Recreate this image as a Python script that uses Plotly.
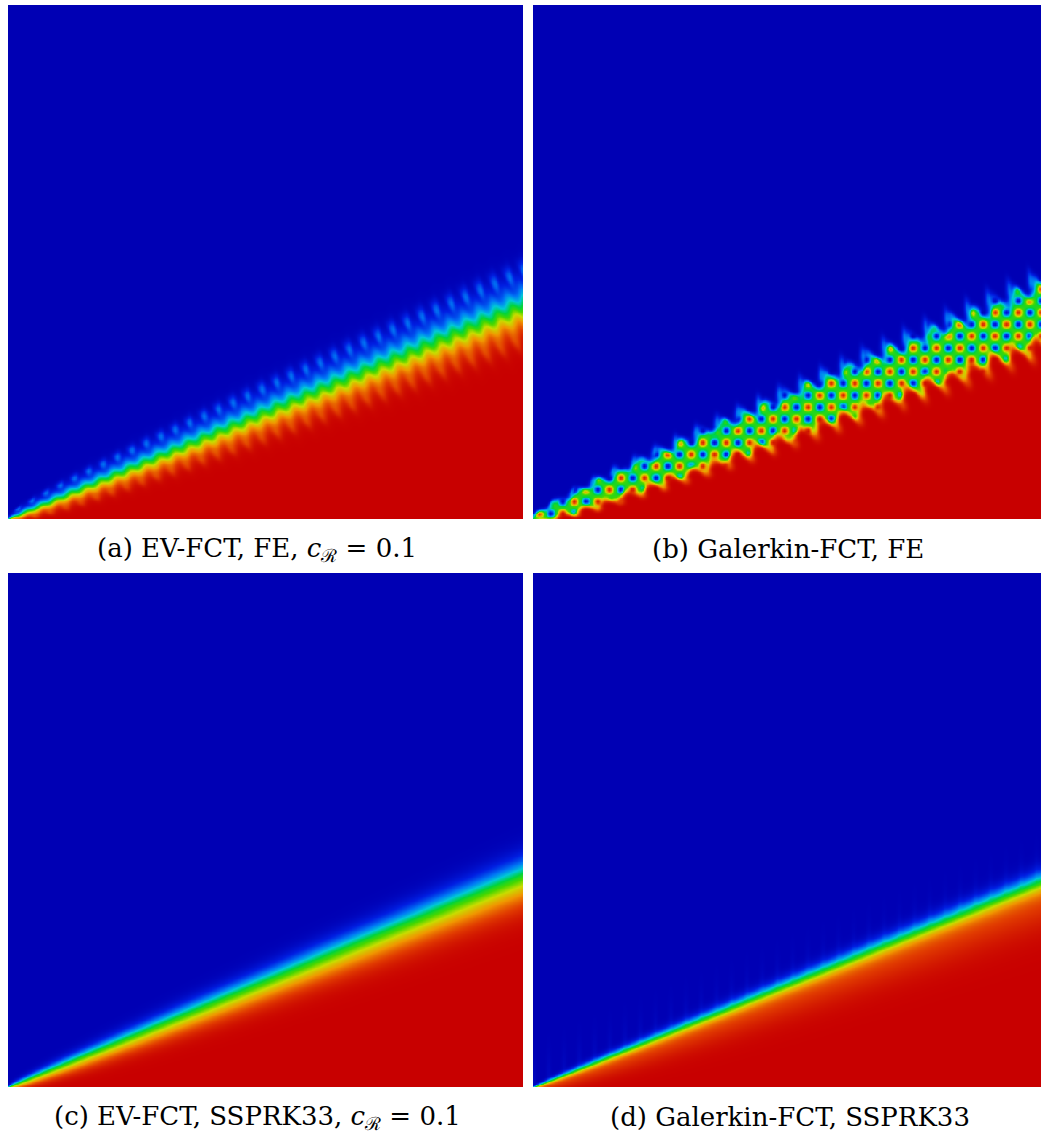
import math
import numpy as np
import plotly.graph_objects as go

# Sub-figure captions
captions = [
    "(a) EV-FCT, FE, <i>c</i><sub>ℛ</sub> = 0.1",
    "(b) Galerkin-FCT, FE",
    "(c) EV-FCT, SSPRK33, <i>c</i><sub>ℛ</sub> = 0.1",
    "(d) Galerkin-FCT, SSPRK33",
]

# Slope of the transported discontinuity (y = slope * x) in each run
front_slope = [0.415, 0.400, 0.412, 0.403]
# Diffusive width of the front, coefficient of sqrt(distance travelled)
front_width = [0.048, 0.046, 0.040, 0.023]
# Amplitude of mesh-scale wiggles relative to the front width
wiggle_amp = [0.10, 0.25, 0.0, 0.0]
# Wavelength of the wiggles along the front
wiggle_len = [0.031, 0.045, 0.0, 0.0]

N = 321
erfc = np.vectorize(math.erfc)

# Rainbow map: 0 (inflow value, blue) .. 1 (red)
colorscale = [
    [0.00, "rgb(0,0,180)"],
    [0.10, "rgb(0,30,225)"],
    [0.22, "rgb(0,120,245)"],
    [0.33, "rgb(0,200,215)"],
    [0.45, "rgb(0,212,60)"],
    [0.55, "rgb(70,215,0)"],
    [0.66, "rgb(200,220,0)"],
    [0.78, "rgb(240,150,0)"],
    [0.90, "rgb(225,60,0)"],
    [1.00, "rgb(200,0,0)"],
]


def step(d, w):
    return 0.5 * erfc(d / w)


def coords(slope):
    x = np.linspace(0.0, 1.0, N)
    y = np.linspace(0.0, 1.0, N)
    X, Y = np.meshgrid(x, y)
    th = math.atan(slope)
    s = X * math.cos(th) + Y * math.sin(th)
    d = -X * math.sin(th) + Y * math.cos(th)
    return x, y, X, Y, np.clip(s, 1e-4, None), d


def soft(t, p):
    return np.sign(t) * np.abs(t) ** p


def field_a(k):
    x, y, X, Y, s, d = coords(front_slope[k])
    w = 0.002 + front_width[k] * np.sqrt(s)
    ph = 2 * np.pi * s / wiggle_len[k]
    delta = wiggle_amp[k] * w * np.sin(ph)
    u = step(d - delta, w)
    halo = 0.18 * np.exp(-((d - delta - 1.3 * w) / (0.35 * w)) ** 2) * ((1 + np.cos(ph + 1.2)) / 2) ** 1.5
    u = u + halo * (1 - u)
    low = 0.06 * np.exp(-((d - delta + 1.1 * w) / (0.35 * w)) ** 2) * ((1 + np.cos(ph + 2.6)) / 2) ** 1.5
    u = u - low * u
    return x, y, np.clip(u, 0, 1)


def field_b(k):
    x, y, X, Y, s, d = coords(front_slope[k])
    b = 0.003 + front_width[k] * np.sqrt(s)
    we = 0.003 + 0.2 * b
    ph = 2 * np.pi * s / wiggle_len[k]
    delta = wiggle_amp[k] * b * np.sin(ph)
    u0 = 0.5 * step(d - b - delta, we) + 0.5 * step(d + b - delta, we)
    inside = np.clip(1 - np.abs(2 * u0 - 1), 0, 1)
    cell = soft(np.sin(2 * np.pi * X / 0.046), 1.6) * soft(np.sin(2 * np.pi * Y / 0.046), 1.6)
    u = u0 + 0.44 * cell * inside
    halo = 0.2 * np.exp(-((d - delta - 1.3 * b) / (0.3 * b)) ** 2) * ((1 + np.cos(ph)) / 2) ** 3
    u = u + halo * (1 - u)
    spots = 0.10 * np.exp(-((d + 1.45 * b) / (0.3 * b)) ** 2) * ((1 + np.cos(ph + 1.0)) / 2) ** 3
    u = u - spots * u
    return x, y, np.clip(u, 0, 1)


def field_c(k):
    x, y, X, Y, s, d = coords(front_slope[k])
    w = 0.002 + front_width[k] * np.sqrt(s)
    u = np.where(d > 0, step(d, w), step(d, 1.4 * w))
    return x, y, np.clip(u, 0, 1)


def field_d(k):
    x, y, X, Y, s, d = coords(front_slope[k])
    w = 0.0015 + front_width[k] * np.sqrt(s)
    u = step(d, w)
    L = 0.004 + 0.065 * np.sqrt(s)
    u = u * (1 - 0.15 * np.exp(-(d / L) ** 2))
    streak = 0.025 * np.exp(-(d / 0.05) ** 2) * (d > 0) * ((1 + np.cos(2 * np.pi * X / 0.03)) / 2) ** 4
    u = u + streak
    return x, y, np.clip(u, 0, 1)


fields = [field_a(0), field_b(1), field_c(2), field_d(3)]

W, H = 1042, 1137
x_dom = [(8 / W, 523 / W), (533 / W, 1041 / W)]
y_dom = [(1 - 519 / H, 1 - 5 / H), (1 - 1087 / H, 1 - 573 / H)]
cap_pos = [(257, 549), (788, 549), (257, 1117), (790, 1117)]

fig = go.Figure()
layout = dict(
    width=W, height=H, margin=dict(l=0, r=0, t=0, b=0),
    paper_bgcolor="white", plot_bgcolor="white", showlegend=False,
)
annotations = []
for k, (x, y, z) in enumerate(fields):
    row, col = divmod(k, 2)
    ax = "" if k == 0 else str(k + 1)
    fig.add_trace(go.Heatmap(
        x=x, y=y, z=z, zmin=0, zmax=1, colorscale=colorscale,
        showscale=False, zsmooth="best", hoverinfo="skip",
        xaxis="x" + ax, yaxis="y" + ax,
    ))
    layout["xaxis" + ax] = dict(domain=list(x_dom[col]), range=[0, 1], visible=False,
                                fixedrange=True, anchor="y" + ax)
    layout["yaxis" + ax] = dict(domain=list(y_dom[row]), range=[0, 1], visible=False,
                                fixedrange=True, anchor="x" + ax)
    cx, cy = cap_pos[k]
    annotations.append(dict(
        text=captions[k], x=cx / W, y=1 - cy / H, xref="paper", yref="paper",
        xanchor="center", yanchor="middle", showarrow=False,
        font=dict(family="DejaVu Serif", size=26, color="black"),
    ))
layout["annotations"] = annotations
fig.update_layout(**layout)
fig.write_html("out.html")
